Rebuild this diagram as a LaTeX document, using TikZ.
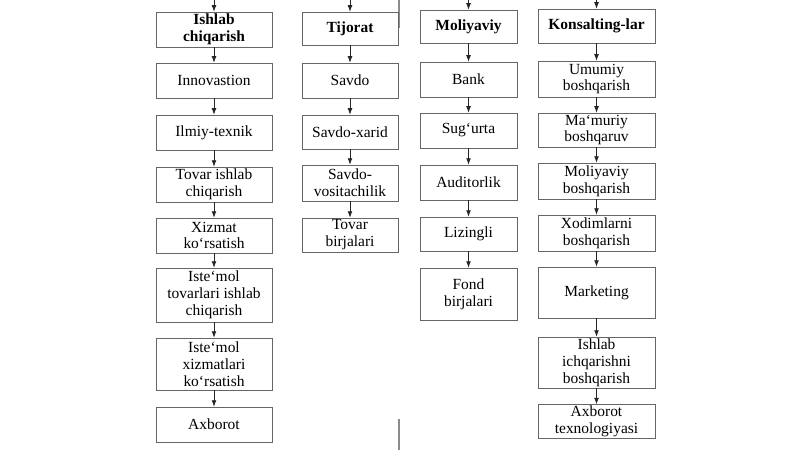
\documentclass[tikz,border=0pt]{standalone}
\usepackage{fontspec}
\setmainfont{Liberation Serif}
\usetikzlibrary{arrows.meta}
\tikzset{
  box/.style={draw=black!60, line width=0.5pt, align=center, inner sep=1pt, font=\fontsize{11}{12}\selectfont},
  head/.style={box, font=\fontsize{11}{12}\selectfont\bfseries},
  arr/.style={-{Latex[length=1.6mm,width=1.2mm]}, line width=0.5pt, black!85},
  edge/.style={line width=1pt, black!45},
}
\begin{document}
\begin{tikzpicture}[x=0.025cm, y=-0.025cm]
		%%%%% START %%%%%
		\useasboundingbox[fill=white] (0, 0) rectangle (800, 450);
		
		\coordinate (edgeTa) at (399, 0);
		\coordinate (edgeTb) at (399, 28);
		\coordinate (edgeBa) at (399, 419);
		\coordinate (edgeBb) at (399, 450);
		\draw[edge] (edgeTa) -- (edgeTb);
		\draw[edge] (edgeBa) -- (edgeBb);
		
		% ishlab chiqarish
		\coordinate (ishlabTop) at (214, 0);
		\node[head, minimum width=2.9cm, minimum height=0.875cm] (ishlab) at (214, 29.5) {Ishlab\\chiqarish};
		\node[box, minimum width=2.9cm, minimum height=0.875cm] (innov) at (214, 80.5) {Innovastion};
		\node[box, minimum width=2.9cm, minimum height=0.875cm] (ilmiy) at (214, 132.5) {Ilmiy-texnik};
		\node[box, minimum width=2.9cm, minimum height=0.875cm] (tovar) at (214, 184.5) {Tovar ishlab\\chiqarish};
		\node[box, minimum width=2.9cm, minimum height=0.875cm] (xizmat) at (214, 235.5) {Xizmat\\ko`rsatish};
		\node[box, minimum width=2.9cm, minimum height=1.35cm] (istTovar) at (214, 295) {Iste`mol\\tovarlari ishlab\\chiqarish};
		\node[box, minimum width=2.9cm, minimum height=1.3cm] (istXizmat) at (214, 364) {Iste`mol\\xizmatlari\\ko`rsatish};
		\node[box, minimum width=2.9cm, minimum height=0.875cm] (axborot) at (214, 424.5) {Axborot};
		
		\draw[arr] (ishlabTop) -- (ishlab);
		\draw[arr] (ishlab) -- (innov);
		\draw[arr] (innov) -- (ilmiy);
		\draw[arr] (ilmiy) -- (tovar);
		\draw[arr] (tovar) -- (xizmat);
		\draw[arr] (xizmat) -- (istTovar);
		\draw[arr] (istTovar) -- (istXizmat);
		\draw[arr] (istXizmat) -- (axborot);
		
		% tijorat
		\coordinate (tijoratTop) at (350, 0);
		\node[head, minimum width=2.4cm, minimum height=0.825cm] (tijorat) at (350, 28.5) {Tijorat};
		\node[box, minimum width=2.4cm, minimum height=0.875cm] (savdo) at (350, 80.5) {Savdo};
		\node[box, minimum width=2.4cm, minimum height=0.85cm] (xarid) at (350, 132) {Savdo-xarid};
		\node[box, minimum width=2.4cm, minimum height=0.9cm] (vosita) at (350, 183) {Savdo-\\vositachilik};
		\node[box, minimum width=2.4cm, minimum height=0.85cm] (tovBirja) at (350, 235) {Tovar\\birjalari};
		
		\draw[arr] (tijoratTop) -- (tijorat);
		\draw[arr] (tijorat) -- (savdo);
		\draw[arr] (savdo) -- (xarid);
		\draw[arr] (xarid) -- (vosita);
		\draw[arr] (vosita) -- (tovBirja);
		
		% moliyaviy
		\coordinate (moliyaTop) at (468.5, 0);
		\node[head, minimum width=2.425cm, minimum height=0.825cm] (moliya) at (468.5, 26.5) {Moliyaviy};
		\node[box, minimum width=2.425cm, minimum height=0.875cm] (bank) at (468.5, 79.5) {Bank};
		\node[box, minimum width=2.425cm, minimum height=0.875cm] (sugurta) at (468.5, 130.5) {Sug`urta};
		\node[box, minimum width=2.425cm, minimum height=0.875cm] (audit) at (468.5, 182.5) {Auditorlik};
		\node[box, minimum width=2.425cm, minimum height=0.85cm] (lizing) at (468.5, 234) {Lizingli};
		\node[box, minimum width=2.425cm, minimum height=1.3cm] (fond) at (468.5, 294) {Fond\\birjalari};
		
		\draw[arr] (moliyaTop) -- (moliya);
		\draw[arr] (moliya) -- (bank);
		\draw[arr] (bank) -- (sugurta);
		\draw[arr] (sugurta) -- (audit);
		\draw[arr] (audit) -- (lizing);
		\draw[arr] (lizing) -- (fond);
		
		% konsalting
		\coordinate (konsTop) at (596.5, 0);
		\node[head, minimum width=2.925cm, minimum height=0.85cm] (kons) at (596.5, 26) {Konsalting-lar};
		\node[box, minimum width=2.925cm, minimum height=0.9cm] (umumiy) at (596.5, 79) {Umumiy\\boshqarish};
		\node[box, minimum width=2.925cm, minimum height=0.85cm] (mamuriy) at (596.5, 130) {Ma`muriy\\boshqaruv};
		\node[box, minimum width=2.925cm, minimum height=0.9cm] (molBosh) at (596.5, 181) {Moliyaviy\\boshqarish};
		\node[box, minimum width=2.925cm, minimum height=0.9cm] (xodim) at (596.5, 233) {Xodimlarni\\boshqarish};
		\node[box, minimum width=2.925cm, minimum height=1.275cm] (market) at (596.5, 292.5) {Marketing};
		\node[box, minimum width=2.925cm, minimum height=1.275cm] (ichqar) at (596.5, 362.5) {Ishlab\\ichqarishni\\boshqarish};
		\node[box, minimum width=2.925cm, minimum height=0.825cm] (texno) at (596.5, 421.5) {Axborot\\texnologiyasi};
		
		\draw[arr] (konsTop) -- (kons);
		\draw[arr] (kons) -- (umumiy);
		\draw[arr] (umumiy) -- (mamuriy);
		\draw[arr] (mamuriy) -- (molBosh);
		\draw[arr] (molBosh) -- (xodim);
		\draw[arr] (xodim) -- (market);
		\draw[arr] (market) -- (ichqar);
		\draw[arr] (ichqar) -- (texno);
		
		%%%%% END %%%%%
\end{tikzpicture}
\end{document}
